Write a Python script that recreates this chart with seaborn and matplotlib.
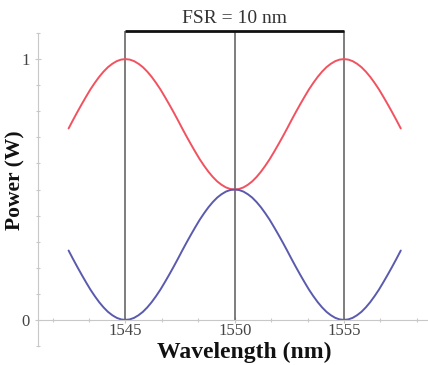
import numpy as np
import pandas as pd
import matplotlib
matplotlib.use("Agg")
import matplotlib.pyplot as plt
from matplotlib.ticker import MultipleLocator, FixedLocator
import seaborn as sns

# ---- data ----
wavelength = [round(1542.4 + 0.2 * i, 1) for i in range(77)]
power_red = [0.734, 0.766, 0.797, 0.827, 0.856, 0.884, 0.909, 0.932, 0.952, 0.969, 0.982, 0.992, 0.998,
             1.000, 0.998, 0.992, 0.982, 0.969, 0.952, 0.932, 0.909, 0.884, 0.856, 0.827, 0.797, 0.766,
             0.734, 0.703, 0.673, 0.644, 0.616, 0.591, 0.568, 0.548, 0.531, 0.518, 0.508, 0.502, 0.500,
             0.502, 0.508, 0.518, 0.531, 0.548, 0.568, 0.591, 0.616, 0.644, 0.673, 0.703, 0.734, 0.766,
             0.797, 0.827, 0.856, 0.884, 0.909, 0.932, 0.952, 0.969, 0.982, 0.992, 0.998, 1.000,
             0.998, 0.992, 0.982, 0.969, 0.952, 0.932, 0.909, 0.884, 0.856, 0.827, 0.797, 0.766, 0.734]
power_blue = [0.266, 0.234, 0.203, 0.173, 0.144, 0.116, 0.091, 0.068, 0.048, 0.031, 0.018, 0.008, 0.002,
              0.000, 0.002, 0.008, 0.018, 0.031, 0.048, 0.068, 0.091, 0.116, 0.144, 0.173, 0.203, 0.234,
              0.266, 0.297, 0.327, 0.356, 0.384, 0.409, 0.432, 0.452, 0.469, 0.482, 0.492, 0.498, 0.500,
              0.498, 0.492, 0.482, 0.469, 0.452, 0.432, 0.409, 0.384, 0.356, 0.327, 0.297, 0.266, 0.234,
              0.203, 0.173, 0.144, 0.116, 0.091, 0.068, 0.048, 0.031, 0.018, 0.008, 0.002, 0.000,
              0.002, 0.008, 0.018, 0.031, 0.048, 0.068, 0.091, 0.116, 0.144, 0.173, 0.203, 0.234, 0.266]
resonances = [1545, 1550, 1555]
x_ticks = [1545, 1550, 1555]
y_ticks = [0, 1]
y_tick_labels = ["0", "1"]
fsr_label = "FSR = 10 nm"
fsr_level = 1.107

df = pd.DataFrame({
    "Wavelength": wavelength * 2,
    "Power": power_red + power_blue,
    "Port": ["through"] * len(power_red) + ["drop"] * len(power_blue),
})

sns.set_theme(style="white")
plt.rcParams["font.family"] = ["Liberation Serif", "DejaVu Serif"]

fig = plt.figure(figsize=(4.28, 3.65), dpi=100)
ax = fig.add_axes([38 / 428, 19 / 365, 389 / 428, 313 / 365])

sns.lineplot(data=df, x="Wavelength", y="Power", hue="Port",
             palette={"through": "#f2525f", "drop": "#5a5aae"},
             linewidth=1.4, legend=False, ax=ax, estimator=None, sort=False)

ax.set_xlim(1541.0, 1558.8)
ax.set_ylim(-0.1, 1.1)

# resonance markers and FSR bracket
ax.vlines(resonances, 0, fsr_level, colors="#5a5a5a", linewidth=1.1, zorder=1, clip_on=False)
ax.hlines(fsr_level, resonances[0], resonances[-1], colors="#111111", linewidth=2.0, zorder=3,
          clip_on=False)
ax.text(resonances[1], fsr_level + 0.015, fsr_label, ha="center", va="bottom",
        fontsize=14, color="#333333")

# spines
for s in ["top", "right"]:
    ax.spines[s].set_visible(False)
ax.spines["bottom"].set_position(("data", 0))
for s in ["left", "bottom"]:
    ax.spines[s].set_color("#c8c8c8")
    ax.spines[s].set_linewidth(0.8)

ax.xaxis.set_major_locator(FixedLocator(x_ticks))
ax.xaxis.set_minor_locator(MultipleLocator(5 / 3))
ax.yaxis.set_major_locator(FixedLocator(y_ticks))
ax.set_yticklabels(y_tick_labels)
ax.yaxis.set_minor_locator(MultipleLocator(0.1))
ax.tick_params(which="both", direction="inout", color="#c8c8c8", width=0.8)
ax.tick_params(which="major", length=4, labelsize=12, labelcolor="#444444")
ax.tick_params(axis="x", which="major", pad=0.5)
ax.tick_params(axis="y", which="major", pad=4)
ax.tick_params(which="minor", length=3)
ax.tick_params(left=True, bottom=True, which="both")

ax.set_xlabel("")
ax.set_ylabel("")
fig.text(244 / 428, 1 - 352 / 365, "Wavelength (nm)", ha="center", va="center",
         fontsize=17, fontweight="bold", color="#111111")
fig.text(15 / 428, 1 - 180 / 365, "Power (W)", ha="center", va="center", rotation=90,
         fontsize=15.5, fontweight="bold", color="#111111")

fig.savefig("out.png", dpi=100)
